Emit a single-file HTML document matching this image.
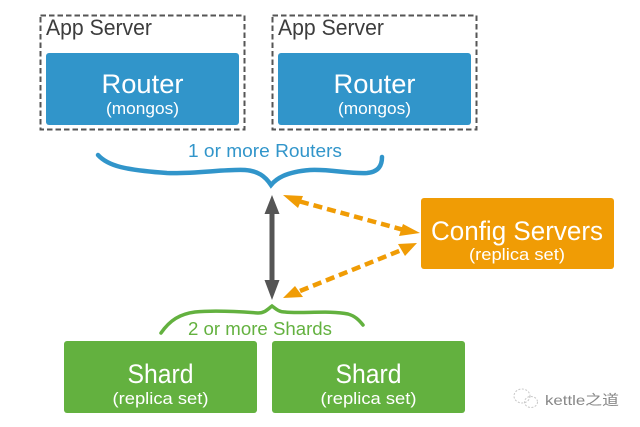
<!DOCTYPE html>
<html><head><meta charset="utf-8"><style>
html,body{margin:0;padding:0;background:#fff}
svg{display:block}
text{font-family:"Liberation Sans","Noto Sans CJK SC",sans-serif;text-anchor:middle}
</style></head><body>
<svg width="640" height="427" viewBox="0 0 640 427" xmlns="http://www.w3.org/2000/svg">
<rect width="640" height="427" fill="#fff"/>
<g fill="none" stroke="#555" stroke-width="2" stroke-dasharray="5.500 3">
<rect x="40.500" y="15.500" width="204" height="114"/>
<rect x="272.500" y="15.500" width="204" height="114"/>
</g>
<g fill="#3d3d3d" font-size="22">
<text x="99" y="35" textLength="106" lengthAdjust="spacingAndGlyphs">App Server</text>
<text x="331" y="35" textLength="106" lengthAdjust="spacingAndGlyphs">App Server</text>
</g>
<g fill="#3195ca">
<rect x="46" y="53" width="193" height="72" rx="3"/>
<rect x="278" y="53" width="193" height="72" rx="3"/>
</g>
<g fill="#63b13f">
<rect x="64" y="341" width="193" height="72" rx="3"/>
<rect x="272" y="341" width="193" height="72" rx="3"/>
</g>
<rect x="421" y="198" width="193" height="71" rx="3" fill="#f09c05"/>
<g fill="#fff">
<text x="142.500" y="93" font-size="27" textLength="82" lengthAdjust="spacingAndGlyphs">Router</text>
<text x="374.500" y="93" font-size="27" textLength="82" lengthAdjust="spacingAndGlyphs">Router</text>
<text x="142.500" y="114" font-size="17" textLength="73" lengthAdjust="spacingAndGlyphs">(mongos)</text>
<text x="374.500" y="114" font-size="17" textLength="73" lengthAdjust="spacingAndGlyphs">(mongos)</text>
<text x="160.500" y="383" font-size="27" textLength="66" lengthAdjust="spacingAndGlyphs">Shard</text>
<text x="368.500" y="383" font-size="27" textLength="66" lengthAdjust="spacingAndGlyphs">Shard</text>
<text x="160.500" y="404" font-size="17" textLength="96" lengthAdjust="spacingAndGlyphs">(replica set)</text>
<text x="368.500" y="404" font-size="17" textLength="96" lengthAdjust="spacingAndGlyphs">(replica set)</text>
<text x="517" y="240" font-size="27" textLength="172" lengthAdjust="spacingAndGlyphs">Config Servers</text>
<text x="517" y="260" font-size="17" textLength="96" lengthAdjust="spacingAndGlyphs">(replica set)</text>
</g>
<text x="265" y="157" font-size="18" fill="#3195ca" textLength="154" lengthAdjust="spacingAndGlyphs">1 or more Routers</text>
<text x="260" y="335" font-size="18" fill="#63b13f" textLength="144" lengthAdjust="spacingAndGlyphs">2 or more Shards</text>
<path d="M98 155C108 166 125 170 167 173C195 174 225 169 245 170C258 171 265 176 271 185C276 179 285 172 310 170C330 169 350 174 367 173C378 172 382 166 382 157" fill="none" stroke="#3195ca" stroke-width="4.500" stroke-linecap="round"/>
<path d="M161 333C170 320 180 314 195 312C215 310 245 312 258 313C265 313 268 309 272 306C276 309 279 312 285 312C300 314 330 310 348 314C355 316 359 320 363 325" fill="none" stroke="#63b13f" stroke-width="3.500" stroke-linecap="round"/>
<line x1="272" y1="212" x2="272" y2="284" stroke="#555" stroke-width="5"/>
<path d="M272 195L279.500 214H264.500ZM272 300L279.500 280H264.500Z" fill="#555"/>
<g stroke="#f09c05" stroke-width="4.500" stroke-dasharray="9 5" fill="none">
<line x1="300" y1="201.500" x2="404" y2="230"/>
<line x1="300" y1="291" x2="404" y2="249"/>
</g>
<g fill="#f09c05">
<path d="M283 195L303 196L298 208Z"/>
<path d="M420 233L403 224L399 236Z"/>
<path d="M283 298L295 286L303 297Z"/>
<path d="M417 243L398 244L405 256Z"/>
</g>
<g fill="none" stroke="#c8c8c8" stroke-width="1" stroke-dasharray="2 1.500">
<ellipse cx="522" cy="396" rx="8" ry="7"/>
<ellipse cx="531" cy="402" rx="6.500" ry="5.500"/>
</g>
<text x="582" y="405" font-size="14" fill="#888" textLength="74" lengthAdjust="spacingAndGlyphs">kettle之道</text>
</svg>
</body></html>
